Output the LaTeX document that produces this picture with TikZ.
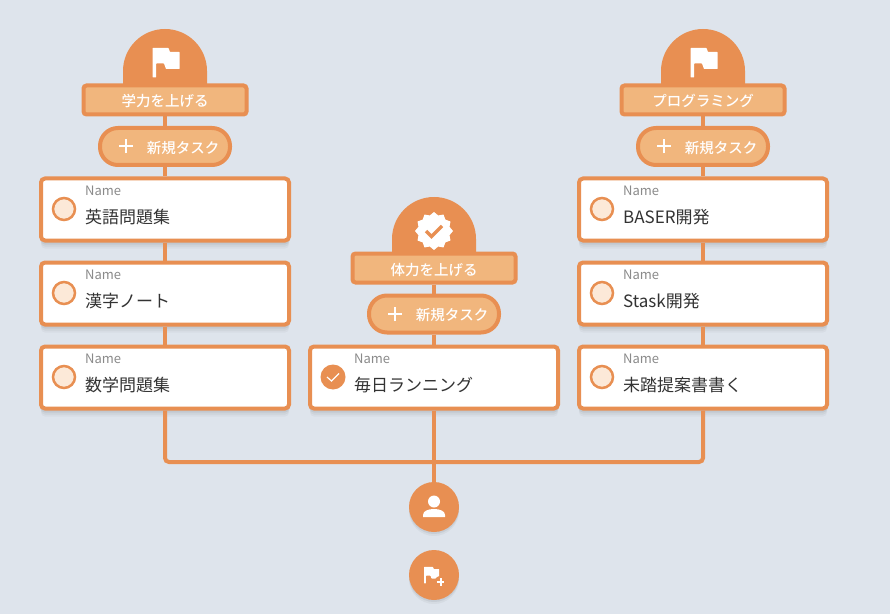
\documentclass[tikz,border=0pt]{standalone}
\usepackage{fontspec}
\setsansfont{Noto Sans CJK JP}[BoldFont={Noto Sans CJK JP Medium}]
\usetikzlibrary{shapes.geometric,shadows}
\definecolor{pagebg}{HTML}{DEE4EC}
\definecolor{accent}{HTML}{E88F52}
\definecolor{accentlight}{HTML}{F1B67D}
\definecolor{radiofill}{HTML}{FCE9D8}
\definecolor{inktext}{HTML}{333333}
\definecolor{inkgray}{HTML}{8A8A8A}

\begin{document}
\begin{tikzpicture}[
  x=1pt, y=1pt,
  font=\sffamily,
  titlebox/.style={rectangle, rounded corners=3pt, draw=accent, line width=4pt, fill=accentlight,
               minimum width=163pt, minimum height=29pt, inner sep=0pt, text=white,
               text height=14pt, text depth=0pt,
               font=\sffamily\bfseries\fontsize{14.5}{16}\selectfont},
  addpill/.style={rectangle, rounded corners=18pt, draw=accent, line width=4pt, fill=accentlight,
               minimum width=130pt, minimum height=37pt, inner sep=0pt},
  addtext/.style={inner sep=0pt, text=white, font=\sffamily\bfseries\fontsize{14.5}{16}\selectfont},
  taskcard/.style={rectangle, rounded corners=4pt, draw=accent, line width=4pt, fill=white,
               minimum width=248pt, minimum height=62pt, inner sep=0pt,
               drop shadow={shadow xshift=0pt, shadow yshift=-4pt, opacity=.05, fill=black},
               drop shadow={shadow xshift=0pt, shadow yshift=-6pt, opacity=.04, fill=black},
               drop shadow={shadow xshift=0pt, shadow yshift=-8pt, opacity=.03, fill=black}},
  tasklabel/.style={anchor=west, inner sep=0pt, text=inkgray, font=\sffamily\fontsize{13}{14}\selectfont},
  tasktext/.style={anchor=west, inner sep=0pt, text=inktext, font=\sffamily\fontsize{17}{18}\selectfont},
  radio/.style={circle, draw=accent, line width=2.5pt, fill=radiofill, minimum size=22pt, inner sep=0pt},
  radiodone/.style={circle, fill=accent, minimum size=25pt, inner sep=0pt},
  fab/.style={circle, fill=accent, minimum size=50pt, inner sep=0pt,
               drop shadow={shadow xshift=0pt, shadow yshift=-2pt, opacity=.06, fill=black},
               drop shadow={shadow xshift=0pt, shadow yshift=-4pt, opacity=.04, fill=black}},
  link/.style={draw=accent, line width=4pt},
  dome/.pic={\fill[accent] (-42,-15) -- (-42,0) arc (180:0:42) -- (42,-15) -- cycle;},
  flagicon/.pic={\fill[white, rounded corners=.5pt] (-12.5,14.5) -- (3.5,14.5) -- (5,10.5) -- (14.5,10.5)
      -- (14.5,-6.5) -- (1,-6.5) -- (-1,-1) -- (-9,-1) -- (-9,-15) -- (-12.5,-15) -- cycle;},
  plusicon/.pic={\draw[white, line width=2pt] (-7,0) -- (7,0) (0,-7) -- (0,7);},
  checkicon/.pic={\draw[accent, line width=3.5pt] (-8,0) -- (-2.5,-5.5) -- (8,5);},
  donecheck/.pic={\draw[white, line width=1.2pt] (-6,0) -- (-1.5,-4) -- (6,3.5);},
  personicon/.pic={\fill[white] (0,5.5) circle (6);
      \fill[white] (-11,-10) -- (-11,-8) .. controls (-11,-4) and (-6,-2) .. (0,-2)
      .. controls (6,-2) and (11,-4) .. (11,-8) -- (11,-10) -- cycle;}
]
\fill[pagebg] (0,0) rectangle (890,614);

% left column
\pic at (165,543) {dome};
\pic at (165,551.5) {flagicon};
\node[titlebox] (study) at (165,514) {学力を上げる};
\node[addpill] (studyadd) at (165,467.5) {};
\pic at (126,467.5) {plusicon};
\node[addtext] (studyaddtext) at (183,466) {新規タスク};
\node[taskcard] (english) at (165,404.5) {};
\node[taskcard] (kanji) at (165,320.5) {};
\node[taskcard] (math) at (165,236.5) {};
\node[radio] (englishradio) at (64,405) {};
\node[radio] (kanjiradio) at (64,321) {};
\node[radio] (mathradio) at (64,237) {};
\node[tasklabel] (englishlabel) at (85,423.5) {Name};
\node[tasklabel] (kanjilabel) at (85,339.5) {Name};
\node[tasklabel] (mathlabel) at (85,255.5) {Name};
\node[tasktext] (englishtext) at (85,397) {英語問題集};
\node[tasktext] (kanjitext) at (85,313) {漢字ノート};
\node[tasktext] (mathtext) at (85,229) {数学問題集};

% middle column
\pic at (434,375) {dome};
\node[star, star points=12, star point ratio=1.18, fill=white, minimum size=38pt, inner sep=0pt] (badge) at (434,383) {};
\pic at (434,383) {checkicon};
\node[titlebox] (fitness) at (434,346) {体力を上げる};
\node[addpill] (fitnessadd) at (434,300) {};
\pic at (395,300) {plusicon};
\node[addtext] (fitnessaddtext) at (452,298.5) {新規タスク};
\node[taskcard] (running) at (434,236.5) {};
\node[radiodone] (runningradio) at (333,237) {};
\pic at (333,237) {donecheck};
\node[tasklabel] (runninglabel) at (354,255.5) {Name};
\node[tasktext] (runningtext) at (354,229) {毎日ランニング};

% right column
\pic at (703,543) {dome};
\pic at (703,551.5) {flagicon};
\node[titlebox] (coding) at (703,514) {プログラミング};
\node[addpill] (codingadd) at (703,467.5) {};
\pic at (664,467.5) {plusicon};
\node[addtext] (codingaddtext) at (721,466) {新規タスク};
\node[taskcard] (baser) at (703,404.5) {};
\node[taskcard] (stask) at (703,320.5) {};
\node[taskcard] (proposal) at (703,236.5) {};
\node[radio] (baserradio) at (602,405) {};
\node[radio] (staskradio) at (602,321) {};
\node[radio] (proposalradio) at (602,237) {};
\node[tasklabel] (baserlabel) at (623,423.5) {Name};
\node[tasklabel] (stasklabel) at (623,339.5) {Name};
\node[tasklabel] (proposallabel) at (623,255.5) {Name};
\node[tasktext] (basertext) at (623,397) {BASER開発};
\node[tasktext] (stasktext) at (623,313) {Stask開発};
\node[tasktext] (proposaltext) at (623,229) {未踏提案書書く};

% bottom buttons
\node[fab] (user) at (434,107) {};
\pic at (434,107) {personicon};
\node[fab] (addgoal) at (434,39) {};
\pic[scale=.56] at (431,39) {flagicon};
\fill[accent] (440.5,32) circle (6);
\pic[scale=.55] at (440.5,32) {plusicon};

\coordinate (bus) at (434,152);

\draw[link] (study) -- (studyadd);
\draw[link] (studyadd) -- (english);
\draw[link] (english) -- (kanji);
\draw[link] (kanji) -- (math);
\draw[link] (fitness) -- (fitnessadd);
\draw[link] (fitnessadd) -- (running);
\draw[link] (coding) -- (codingadd);
\draw[link] (codingadd) -- (baser);
\draw[link] (baser) -- (stask);
\draw[link] (stask) -- (proposal);
\draw[link, rounded corners=4pt] (math.south) |- (bus) -| (proposal.south);
\draw[link] (running.south) -- (bus);
\draw[link] (bus) -- (user.north);
\end{tikzpicture}
\end{document}
